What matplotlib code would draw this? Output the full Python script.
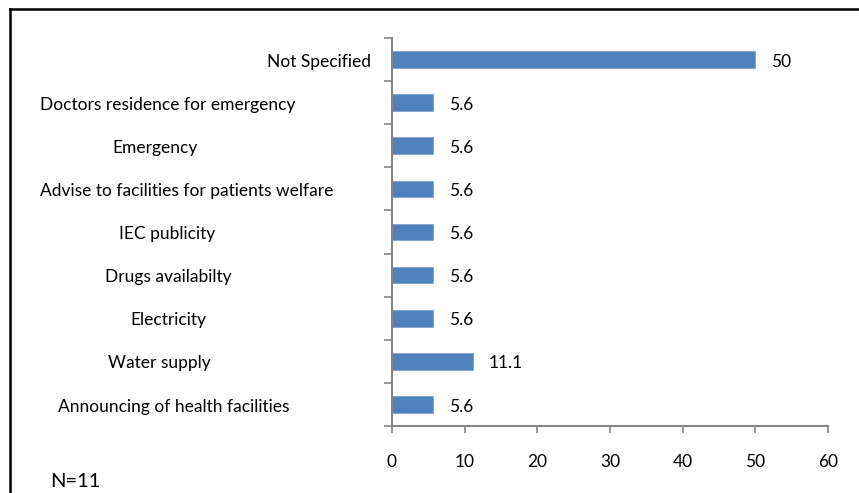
import matplotlib.pyplot as plt
from matplotlib.lines import Line2D
from matplotlib.transforms import blended_transform_factory

categories = [
    'Announcing of health facilities',
    'Water supply',
    'Electricity',
    'Drugs availabilty',
    'IEC publicity',
    'Advise to facilities for patients welfare',
    'Emergency',
    'Doctors residence for emergency',
    'Not Specified',
]
values = [5.6, 11.1, 5.6, 5.6, 5.6, 5.6, 5.6, 5.6, 50]
value_labels = ['5.6', '11.1', '5.6', '5.6', '5.6', '5.6', '5.6', '5.6', '50']
x_ticks = [0, 10, 20, 30, 40, 50, 60]

# where Excel put each category label (horizontal centre, figure fraction)
label_centres = [0.2026, 0.185, 0.196, 0.196, 0.195, 0.2173, 0.180, 0.1956, 0.3715]

plt.rcParams['font.family'] = ['Lato', 'DejaVu Sans']
FS = 12.5

fig = plt.figure(figsize=(8.59, 4.93), dpi=100)
ax = fig.add_axes([0.4563, 0.1359, 0.5076, 0.787])

pos = list(range(len(categories)))
ax.barh(pos, values, height=0.385, color='#4F81BD', edgecolor='#7FA3D0', linewidth=0.6)

for p, v, lab in zip(pos, values, value_labels):
    ax.annotate(lab, (v, p), xytext=(11.5, -1.5), textcoords='offset points',
                va='center', ha='left', fontsize=FS, color='black')

ax.set_xlim(0, 60)
ax.set_ylim(-0.5, len(categories) - 0.5)
ax.set_xticks(x_ticks)
ax.set_xticklabels([str(t) for t in x_ticks], fontsize=FS)
ax.set_yticks([i - 0.5 for i in range(len(categories) + 1)])
ax.set_yticklabels([])
ax.tick_params(axis='y', length=6, width=1.2, color='#868686', direction='out')
ax.tick_params(axis='x', length=5, width=1.2, color='#868686', direction='out', pad=15)

for s in ['top', 'right']:
    ax.spines[s].set_visible(False)
for s in ['left', 'bottom']:
    ax.spines[s].set_color('#868686')
    ax.spines[s].set_linewidth(1.5)

trans = blended_transform_factory(fig.transFigure, ax.transData)
for p, cat, cx in zip(pos, categories, label_centres):
    ax.annotate(cat, (cx, p), xycoords=trans, xytext=(0, -1.5), textcoords='offset points',
                ha='center', va='center', fontsize=FS)

fig.text(0.058, 0.006, 'N=11', fontsize=14.5, ha='left', va='bottom')

# outer frame (cropped on right and bottom)
fig.add_artist(Line2D([0.0116, 0.0116], [0.0, 0.981], transform=fig.transFigure,
                      color='black', linewidth=1.8))
fig.add_artist(Line2D([0.0116, 1.0], [0.981, 0.981], transform=fig.transFigure,
                      color='black', linewidth=1.8))

fig.savefig('out.png', dpi=100)
